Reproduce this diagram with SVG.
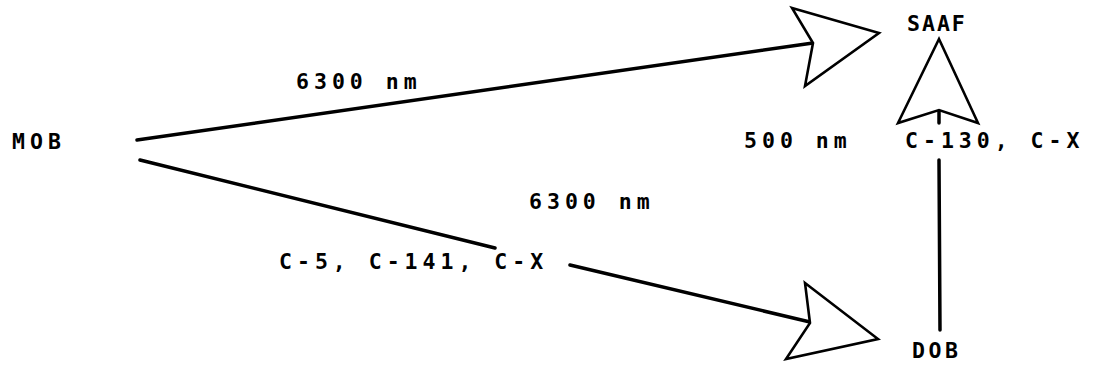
<svg xmlns="http://www.w3.org/2000/svg" width="1095" height="366" viewBox="0 0 1095 366">
<style>
text{font-family:"DejaVu Sans Mono","Liberation Mono",monospace;font-weight:bold;font-size:21.5px;fill:#000;letter-spacing:5px}
.ln{stroke:#000;stroke-width:3.5;fill:none;stroke-linecap:round}
.hd{stroke:#000;stroke-width:2.6;fill:#fff;stroke-linejoin:miter}
</style>
<rect width="1095" height="366" fill="#fff"/>
<g id="connectors">
<line class="ln" x1="137" y1="140" x2="813" y2="43"/>
<polygon class="hd" points="792,8 879,33 805,86 813,43"/>
<line class="ln" x1="140" y1="160" x2="495" y2="248"/>
<line class="ln" x1="570" y1="265" x2="810" y2="322"/>
<polygon class="hd" points="805,283 878,339 786,359 810,323"/>
<line class="ln" x1="939" y1="160" x2="940" y2="330"/>
<line class="ln" x1="939" y1="110" x2="939" y2="123"/>
<polygon class="hd" points="939,39 978,123 939,110 898,123"/>
<text x="296" y="89">6300 nm</text>
<text x="529" y="209">6300 nm</text>
<text x="279" y="269">C-5, C-141, C-X</text>
<text x="744" y="148">500 nm</text>
<text x="905" y="148">C-130, C-X</text>
</g>
<g id="MOB"><text x="12" y="149">MOB</text></g>
<g id="SAAF"><text x="907" y="31" style="letter-spacing:2px">SAAF</text></g>
<g id="DOB"><text x="912" y="358" style="letter-spacing:3.5px">DOB</text></g>
</svg>
